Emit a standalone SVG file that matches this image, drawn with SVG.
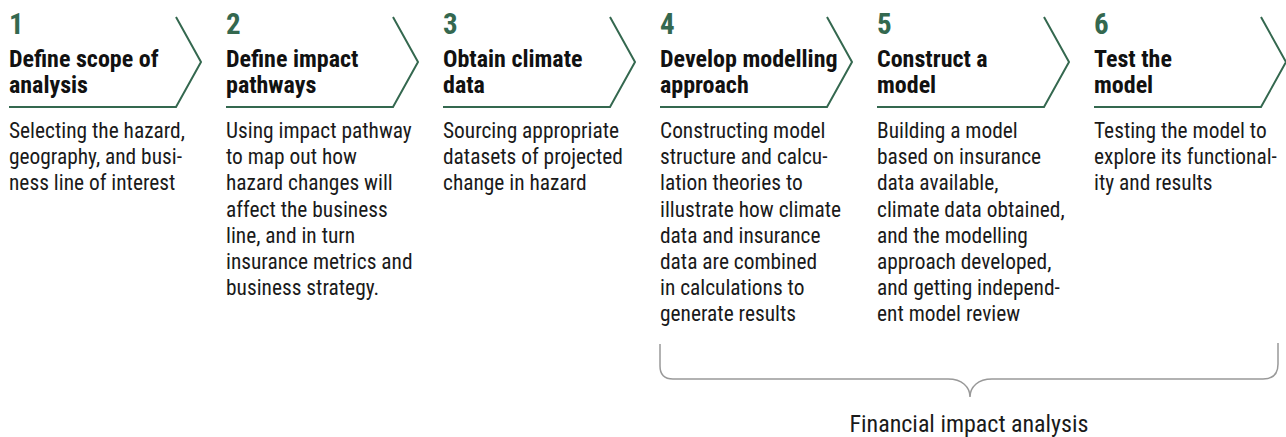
<svg xmlns="http://www.w3.org/2000/svg" width="1286" height="437" viewBox="0 0 1286 437">
<style>
.num{font-family:Roboto,"Liberation Sans",sans-serif;font-stretch:75%;font-weight:700;font-size:29px;fill:#34684f}
.hd{font-family:Roboto,"Liberation Sans",sans-serif;font-stretch:75%;font-weight:700;font-size:24px;fill:#111}
.bd{font-family:Roboto,"Liberation Sans",sans-serif;font-stretch:75%;font-size:21.4px;fill:#1a1a1a}
.lbl{font-family:Roboto,"Liberation Sans",sans-serif;font-stretch:75%;font-size:24px;fill:#1a1a1a}
.chev{fill:none;stroke:#34684f;stroke-width:2}
.brace{fill:none;stroke:#999;stroke-width:1.5}
</style>
<rect width="1286" height="437" fill="#fff"/>
<g id="connectors">
<path class="brace" d="M660,344 V366 Q660,379 673,379 H948 C962,379 970,387 970,397 C970,387 978,379 992,379 H1263 Q1278,379 1278,364 V343"/>
</g>
<g id="step1">
<path class="chev" d="M9,107 H176 L201,62 L176,17"/>
<text class="num" x="9" y="34">1</text>
<text class="hd" x="9"><tspan x="9" y="67">Define scope of</tspan><tspan x="9" y="93">analysis</tspan></text>
<text class="bd"><tspan x="9" y="138">Selecting the hazard,</tspan><tspan x="9" y="164.2">geography, and busi-</tspan><tspan x="9" y="190.4">ness line of interest</tspan></text>
</g>
<g id="step2">
<path class="chev" d="M226,107 H393 L418,62 L393,17"/>
<text class="num" x="226" y="34">2</text>
<text class="hd"><tspan x="226" y="67">Define impact</tspan><tspan x="226" y="93">pathways</tspan></text>
<text class="bd"><tspan x="226" y="138">Using impact pathway</tspan><tspan x="226" y="164.2">to map out how</tspan><tspan x="226" y="190.4">hazard changes will</tspan><tspan x="226" y="216.6">affect the business</tspan><tspan x="226" y="242.8">line, and in turn</tspan><tspan x="226" y="269">insurance metrics and</tspan><tspan x="226" y="295.2">business strategy.</tspan></text>
</g>
<g id="step3">
<path class="chev" d="M443,107 H610 L635,62 L610,17"/>
<text class="num" x="443" y="34">3</text>
<text class="hd"><tspan x="443" y="67">Obtain climate</tspan><tspan x="443" y="93">data</tspan></text>
<text class="bd"><tspan x="443" y="138">Sourcing appropriate</tspan><tspan x="443" y="164.2">datasets of projected</tspan><tspan x="443" y="190.4">change in hazard</tspan></text>
</g>
<g id="step4">
<path class="chev" d="M660,107 H827 L852,62 L827,17"/>
<text class="num" x="660" y="34">4</text>
<text class="hd"><tspan x="660" y="67">Develop modelling</tspan><tspan x="660" y="93">approach</tspan></text>
<text class="bd"><tspan x="660" y="138">Constructing model</tspan><tspan x="660" y="164.2">structure and calcu-</tspan><tspan x="660" y="190.4">lation theories to</tspan><tspan x="660" y="216.6">illustrate how climate</tspan><tspan x="660" y="242.8">data and insurance</tspan><tspan x="660" y="269">data are combined</tspan><tspan x="660" y="295.2">in calculations to</tspan><tspan x="660" y="321.4">generate results</tspan></text>
</g>
<g id="step5">
<path class="chev" d="M877,107 H1044 L1069,62 L1044,17"/>
<text class="num" x="877" y="34">5</text>
<text class="hd"><tspan x="877" y="67">Construct a</tspan><tspan x="877" y="93">model</tspan></text>
<text class="bd"><tspan x="877" y="138">Building a model</tspan><tspan x="877" y="164.2">based on insurance</tspan><tspan x="877" y="190.4">data available,</tspan><tspan x="877" y="216.6">climate data obtained,</tspan><tspan x="877" y="242.8">and the modelling</tspan><tspan x="877" y="269">approach developed,</tspan><tspan x="877" y="295.2">and getting independ-</tspan><tspan x="877" y="321.4">ent model review</tspan></text>
</g>
<g id="step6">
<path class="chev" d="M1094,107 H1261 L1286,62 L1261,17"/>
<text class="num" x="1094" y="34">6</text>
<text class="hd"><tspan x="1094" y="67">Test the</tspan><tspan x="1094" y="93">model</tspan></text>
<text class="bd"><tspan x="1094" y="138">Testing the model to</tspan><tspan x="1094" y="164.2">explore its functional-</tspan><tspan x="1094" y="190.4">ity and results</tspan></text>
</g>
<g id="label">
<text class="lbl" x="969" y="432" text-anchor="middle">Financial impact analysis</text>
</g>
</svg>
